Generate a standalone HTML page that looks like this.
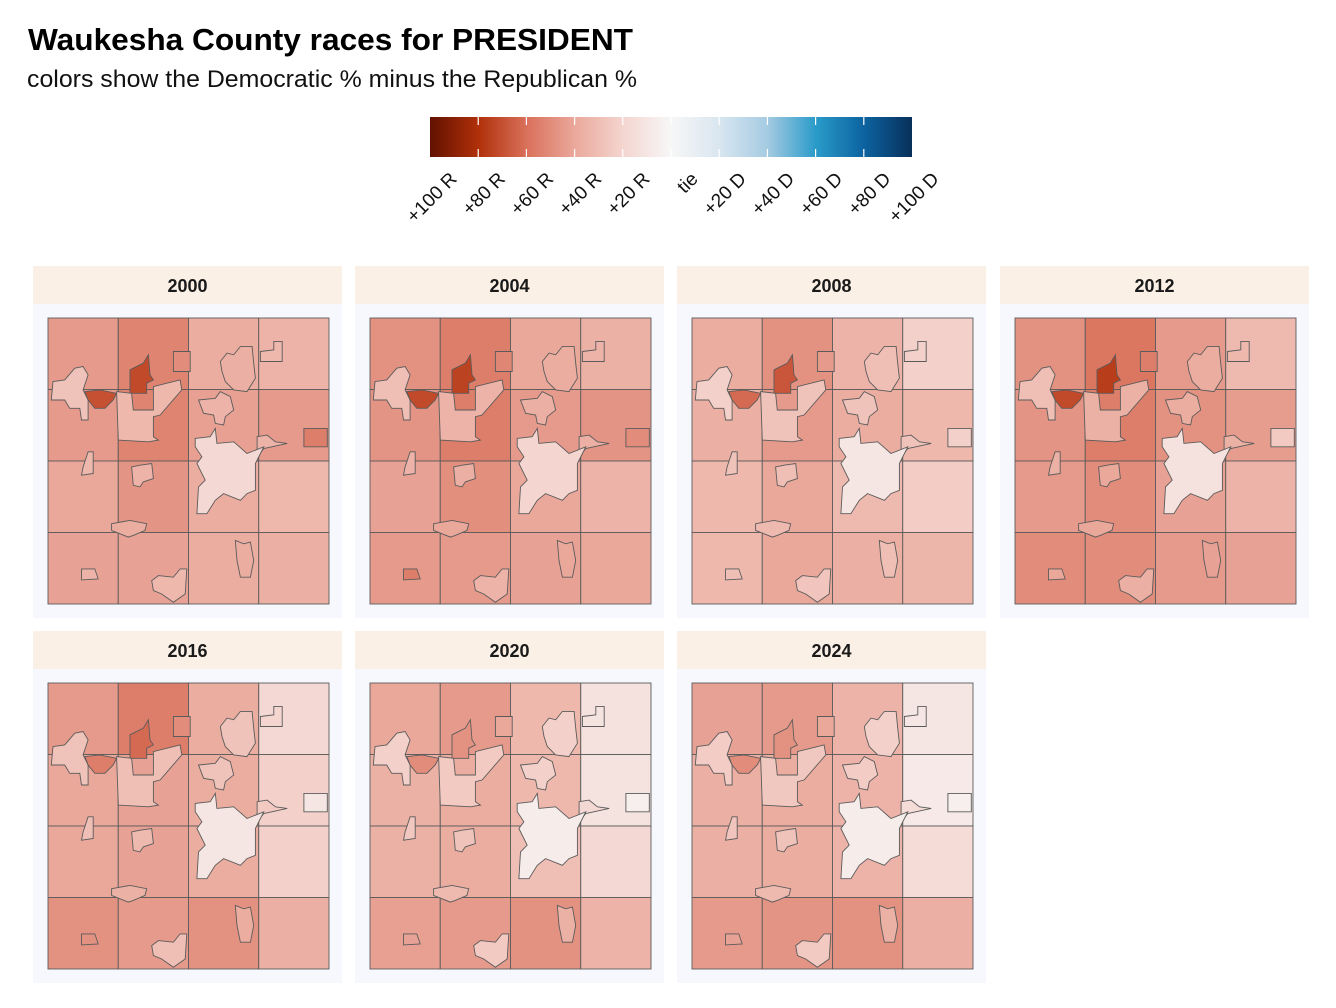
<!DOCTYPE html>
<html><head><meta charset="utf-8">
<style>
body{margin:0;background:#fff;font-family:"Liberation Sans",Arial,sans-serif;}
svg{display:block}
</style></head>
<body>
<svg id="chart" width="1336" height="1008" viewBox="0 0 1336 1008">
<text x="28" y="50" font-size="31" font-weight="bold" fill="#000" textLength="605" lengthAdjust="spacingAndGlyphs">Waukesha County races for PRESIDENT</text>
<text x="27" y="87" font-size="24" fill="#111" textLength="610" lengthAdjust="spacingAndGlyphs">colors show the Democratic % minus the Republican %</text>
<defs>
<linearGradient id="lg" x1="0" x2="1" y1="0" y2="0">
<stop offset="0" stop-color="#621200"/><stop offset="0.1" stop-color="#b0300a"/><stop offset="0.2" stop-color="#d9705a"/><stop offset="0.3" stop-color="#eaa89b"/><stop offset="0.4" stop-color="#f4d5cf"/><stop offset="0.5" stop-color="#f7f7f7"/><stop offset="0.6" stop-color="#d9e6f0"/><stop offset="0.7" stop-color="#a5cbe2"/><stop offset="0.8" stop-color="#2a9bc9"/><stop offset="0.9" stop-color="#0c63a0"/><stop offset="1" stop-color="#08305a"/>
</linearGradient>
</defs>
<g id="legend"></g>
<g id="panels"></g>
</svg>
<script>
const years=["2000","2004","2008","2012","2016","2020","2024"];
const cells2000=[-45,-53,-38,-35,-45,-53,-43,-45,-40,-47,-38,-33,-42,-42,-38,-37];
const cells2004=[-48,-55,-40,-36,-47,-55,-45,-47,-42,-49,-40,-35,-45,-45,-42,-40];
const cells2008=[-38,-48,-35,-22,-37,-45,-38,-33,-33,-40,-32,-24,-33,-40,-37,-34];
const cells2012=[-48,-58,-45,-32,-47,-55,-48,-44,-45,-50,-42,-35,-50,-50,-45,-42];
const cells2016=[-45,-55,-38,-18,-40,-42,-38,-22,-40,-42,-38,-22,-48,-45,-48,-37];
const cells2020=[-40,-45,-33,-13,-36,-38,-33,-12,-36,-38,-30,-18,-43,-45,-48,-35];
const cells2024=[-42,-45,-35,-10,-37,-38,-35,-8,-37,-38,-35,-16,-45,-47,-48,-37];
const blobNames=["oconomowoc","dark-north","dark-west","hartland","brookfield","north-blob","ne-small","n-small","east-rect","center-blob","west-blob","mukwonago","sw-small","east-cluster","south-strip","muskego","waukesha-city"];
const blobs2000=[-28,-72,-70,-33,-35,-37,-33,-50,-55,-35,-33,-33,-35,-35,-38,-38,-18];
const blobs2004=[-30,-74,-72,-35,-37,-38,-35,-52,-50,-37,-35,-35,-55,-37,-40,-40,-20];
const blobs2008=[-22,-68,-62,-28,-28,-30,-22,-45,-22,-30,-28,-27,-30,-28,-32,-30,-10];
const blobs2012=[-30,-76,-72,-36,-38,-38,-33,-55,-25,-40,-36,-37,-40,-36,-40,-42,-13];
const blobs2016=[-28,-62,-55,-30,-28,-28,-20,-50,-10,-32,-30,-30,-48,-25,-36,-38,-10];
const blobs2020=[-22,-48,-50,-25,-22,-22,-12,-40,-5,-28,-26,-25,-42,-18,-32,-36,-6];
const blobs2024=[-24,-48,-50,-26,-24,-22,-10,-40,-5,-28,-27,-25,-42,-16,-32,-36,-6];
const allCells=[cells2000,cells2004,cells2008,cells2012,cells2016,cells2020,cells2024];
const allBlobs=[blobs2000,blobs2004,blobs2008,blobs2012,blobs2016,blobs2020,blobs2024];
const tickLabels=["+100 R","+80 R","+60 R","+40 R","+20 R","tie","+20 D","+40 D","+60 D","+80 D","+100 D"];
const tickValues=[-100,-80,-60,-40,-20,0,20,40,60,80,100];

const shapes=[
[[60,245],[95,240],[125,205],[150,200],[165,225],[150,270],[165,300],[165,360],[145,360],[140,325],[110,325],[95,300],[55,300]],
[[290,210],[330,190],[345,165],[350,225],[360,240],[340,250],[340,280],[290,280]],
[[155,275],[200,270],[250,280],[240,300],[215,325],[185,325],[165,300]],
[[250,275],[295,280],[300,330],[360,330],[360,260],[440,240],[445,270],[380,345],[360,350],[360,410],[375,420],[345,425],[255,420]],
[[495,300],[545,295],[560,275],[590,290],[600,330],[575,350],[570,375],[545,370],[540,345],[510,340]],
[[560,185],[580,160],[600,165],[620,140],[655,140],[660,190],[665,235],[640,275],[600,270],[575,245],[565,215]],
[[680,155],[720,150],[720,125],[745,125],[745,185],[680,185]],
[[420,155],[470,155],[470,215],[420,215]],
[[810,385],[880,385],[880,440],[810,440]],
[[295,500],[320,495],[355,490],[360,535],[330,545],[320,560],[300,555]],
[[150,500],[165,455],[180,455],[180,520],[145,525]],
[[355,840],[375,825],[420,830],[440,805],[460,805],[455,880],[420,905],[385,880],[360,870]],
[[145,805],[185,805],[195,835],[145,838]],
[[670,410],[700,405],[725,425],[760,430],[690,445],[670,470]],
[[235,670],[290,660],[340,670],[335,690],[300,705],[285,710],[235,690]],
[[605,720],[630,730],[650,725],[660,780],[650,830],[620,830],[610,780]],
[[485,415],[530,410],[545,385],[550,430],[600,425],[640,460],[690,440],[665,490],[665,570],[640,580],[620,600],[570,580],[545,600],[520,640],[490,640],[495,560],[515,540],[490,490],[505,470],[485,440]]
];
const stops=[[-100,[98,18,0]],[-80,[176,48,10]],[-60,[217,112,90]],[-40,[234,168,155]],[-20,[244,213,207]],[0,[247,247,247]],[20,[217,230,240]],[40,[165,203,226]],[60,[42,155,201]],[80,[12,99,160]],[100,[8,48,90]]];
function color(v){
  v=Math.max(-100,Math.min(100,v));
  for(let i=0;i<stops.length-1;i++){const a=stops[i],b=stops[i+1];
    if(v<=b[0]){const t=(v-a[0])/(b[0]-a[0]);const c=a[1].map((x,k)=>Math.round(x+(b[1][k]-x)*t));return `rgb(${c})`;}}
  return "rgb(8,48,90)";
}
const NS="http://www.w3.org/2000/svg";
function mk(tag,attrs,parent){const e=document.createElementNS(NS,tag);for(const k in attrs)e.setAttribute(k,attrs[k]);parent.appendChild(e);return e;}
// legend
const lg=document.getElementById("legend");
const LX0=430,LX1=912;
const lx=v=>LX0+(v+100)/200*(LX1-LX0);
const bar=mk("rect",{x:LX0,y:117,width:LX1-LX0,height:40,fill:"url(#lg)"},lg);


tickValues.forEach((v,i)=>{
  const x=lx(v);
  if(i>0&&i<10){
    const t1=mk("line",{x1:x,x2:x,y1:117,y2:125,stroke:"#fff","stroke-width":1.2},lg);
    
    
    const t2=mk("line",{x1:x,x2:x,y1:149,y2:157,stroke:"#fff","stroke-width":1.2},lg);
    
    
  }
  const tx=x+28,ty=180;
  const t=mk("text",{x:tx,y:ty,"font-size":19,"text-anchor":"end",fill:"#111",transform:`rotate(-45 ${tx} ${ty})`},lg);
  t.textContent=tickLabels[i];
  
  
});
// panels
const pg=document.getElementById("panels");
const colX=[33,355,677,1000],rowY=[266,631];
const PW=309;
years.forEach((yr,p)=>{
  const px=colX[p%4],py=rowY[Math.floor(p/4)];
  const g=mk("g",{},pg);
  
  
  const strip=mk("rect",{x:px,y:py,width:PW,height:38,fill:"#faf0e6"},g);
  
  
  const st=mk("text",{x:px+PW/2,y:py+26,"font-size":18,"font-weight":"bold","text-anchor":"middle",fill:"#1a1a1a"},g);
  st.textContent=yr;
  
  
  const bg=mk("rect",{x:px,y:py+38,width:PW,height:314,fill:"#f7f8fe"},g);
  
  
  const mx=px+15,my=py+52,mw=281,mh=286;
  const U=x=>mx+(x-45)/840*mw, V=y=>my+(y-55)/855*mh;
  const cells=allCells[p];
  for(let r=0;r<4;r++)for(let c=0;c<4;c++){
    const rc=mk("rect",{x:mx+c*mw/4,y:my+r*mh/4,width:mw/4,height:mh/4,fill:color(cells[r*4+c]),stroke:"#5b5b5b","stroke-width":0.9},g);
    
    
  }
  const bv=allBlobs[p];
  shapes.forEach((s,i)=>{
    const pts=s.map(q=>U(q[0]).toFixed(1)+","+V(q[1]).toFixed(1)).join(" ");
    const pl=mk("polygon",{points:pts,fill:color(bv[i]),stroke:"#5b5b5b","stroke-width":0.9},g);
    
    
  });
});
</script>
</body></html>
